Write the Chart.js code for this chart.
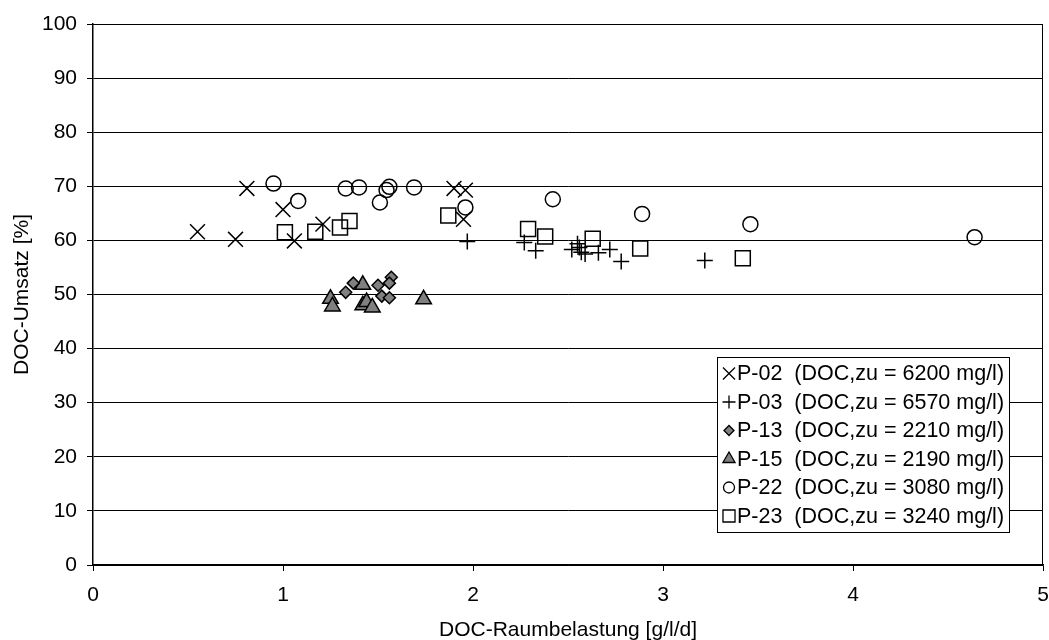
<!DOCTYPE html>
<html>
<head>
<meta charset="utf-8">
<script src="https://cdn.jsdelivr.net/npm/chart.js@4/dist/chart.umd.min.js"></script>
<style>
html,body{margin:0;padding:0;background:#fff;}
#wrap{width:1049px;height:640px;position:relative;}
</style>
</head>
<body>
<div id="wrap"><canvas id="c" width="1049" height="640"></canvas></div>
<script>
// ---- data ----
const seriesLabels = [
  'P-02  (DOC,zu = 6200 mg/l)',
  'P-03  (DOC,zu = 6570 mg/l)',
  'P-13  (DOC,zu = 2210 mg/l)',
  'P-15  (DOC,zu = 2190 mg/l)',
  'P-22  (DOC,zu = 3080 mg/l)',
  'P-23  (DOC,zu = 3240 mg/l)'
];
const p02X = [0.55, 0.75, 0.81, 1.00, 1.06, 1.21, 1.90, 1.96, 1.95];
const p02Y = [61.6, 60.2, 69.6, 65.7, 59.9, 63.0, 69.6, 69.3, 63.9];
const p03X = [1.97, 2.27, 2.33, 2.52, 2.55, 2.56, 2.57, 2.59, 2.66, 2.72, 2.78, 3.22];
const p03Y = [59.8, 59.6, 58.1, 58.3, 59.4, 58.7, 57.8, 57.5, 57.7, 58.3, 56.1, 56.3];
const p13X = [1.33, 1.37, 1.50, 1.57, 1.56, 1.52, 1.56];
const p13Y = [50.4, 52.1, 51.7, 53.2, 52.1, 49.7, 49.4];
const p15X = [1.25, 1.26, 1.42, 1.42, 1.44, 1.47, 1.74];
const p15Y = [49.2, 47.8, 51.8, 48.0, 48.6, 47.6, 49.1];
const p22X = [0.95, 1.08, 1.33, 1.40, 1.56, 1.545, 1.51, 1.69, 1.96, 2.42, 2.89, 3.46, 4.64];
const p22Y = [70.5, 67.3, 69.6, 69.8, 69.9, 69.3, 67.0, 69.8, 66.1, 67.6, 64.9, 63.0, 60.6];
const p23X = [1.01, 1.17, 1.30, 1.35, 1.87, 2.29, 2.38, 2.63, 2.88, 3.42];
const p23Y = [61.5, 61.6, 62.4, 63.6, 64.6, 62.1, 60.7, 60.3, 58.5, 56.7];
const xTicks = [0, 1, 2, 3, 4, 5];
const yTicks = [0, 10, 20, 30, 40, 50, 60, 70, 80, 90, 100];
const xTitle = 'DOC-Raumbelastung [g/l/d]';
const yTitle = 'DOC-Umsatz [%]';

const FONT = "'Liberation Sans', Arial, sans-serif";
const pts = (xs, ys) => xs.map((x, i) => ({x: x, y: ys[i]}));

const styles = [
  {pointStyle: 'crossRot', radius: 10.5, bg: 'rgba(0,0,0,0)', lr: 8.5},
  {pointStyle: 'cross', radius: 8, bg: 'rgba(0,0,0,0)', lr: 6.5},
  {pointStyle: 'rectRot', radius: 6, bg: '#808080', lr: 5},
  {pointStyle: 'triangle', radius: 9, bg: '#808080', lr: 7},
  {pointStyle: 'circle', radius: 7.5, bg: 'rgba(0,0,0,0)', lr: 5.5},
  {pointStyle: 'rect', radius: 10.6, bg: 'rgba(0,0,0,0)', lr: 8.5}
];
const seriesData = [pts(p02X,p02Y), pts(p03X,p03Y), pts(p13X,p13Y), pts(p15X,p15Y), pts(p22X,p22Y), pts(p23X,p23Y)];

const datasets = seriesData.map((d, i) => ({
  label: seriesLabels[i],
  data: d,
  showLine: false,
  pointStyle: styles[i].pointStyle,
  pointRadius: styles[i].radius,
  pointHoverRadius: styles[i].radius,
  pointBackgroundColor: styles[i].bg,
  pointBorderColor: '#000',
  pointBorderWidth: 1.5
}));

// frame (top/right border of plot area)
const framePlugin = {
  id: 'frame',
  afterDatasetsDraw(chart) {
    const {ctx, chartArea: a} = chart;
    ctx.save();
    ctx.strokeStyle = '#000';
    ctx.lineWidth = 1;
    ctx.beginPath();
    ctx.moveTo(a.left, a.top + 0.5);
    ctx.lineTo(a.right - 0.5, a.top + 0.5);
    ctx.lineTo(a.right - 0.5, a.bottom);
    ctx.stroke();
    ctx.restore();
  }
};

function drawMarker(ctx, style, r, x, y, fill) {
  ctx.beginPath();
  const s = Math.SQRT1_2 * r;
  switch (style) {
    case 'crossRot':
      ctx.moveTo(x - s, y - s); ctx.lineTo(x + s, y + s);
      ctx.moveTo(x + s, y - s); ctx.lineTo(x - s, y + s);
      ctx.stroke(); return;
    case 'cross':
      ctx.moveTo(x - r, y); ctx.lineTo(x + r, y);
      ctx.moveTo(x, y - r); ctx.lineTo(x, y + r);
      ctx.stroke(); return;
    case 'rectRot':
      ctx.moveTo(x - r, y); ctx.lineTo(x, y - r); ctx.lineTo(x + r, y); ctx.lineTo(x, y + r); ctx.closePath();
      break;
    case 'triangle':
      ctx.moveTo(x, y - r);
      ctx.lineTo(x + r * Math.sin(2 * Math.PI / 3), y + r / 2);
      ctx.lineTo(x - r * Math.sin(2 * Math.PI / 3), y + r / 2);
      ctx.closePath();
      break;
    case 'circle':
      ctx.arc(x, y, r, 0, Math.PI * 2);
      break;
    case 'rect':
      ctx.rect(x - s, y - s, 2 * s, 2 * s);
      break;
  }
  ctx.fillStyle = fill; ctx.fill(); ctx.stroke();
}

const legendBox = {
  id: 'legendBox',
  afterDraw(chart) {
    const ctx = chart.ctx;
    const left = 717.5, top = 357.5, w = 292, h = 175;
    ctx.save();
    ctx.fillStyle = '#fff';
    ctx.fillRect(left, top, w, h);
    ctx.strokeStyle = '#000';
    ctx.lineWidth = 1;
    ctx.strokeRect(left, top, w, h);
    ctx.font = '21.5px ' + FONT;
    ctx.textBaseline = 'middle';
    ctx.textAlign = 'left';
    chart.data.datasets.forEach((ds, i) => {
      const cy = 373.5 + i * 28.5;
      ctx.strokeStyle = '#000';
      ctx.lineWidth = 1.3;
      drawMarker(ctx, styles[i].pointStyle, styles[i].lr, 729, cy, styles[i].bg);
      ctx.fillStyle = '#000';
      ctx.fillText(ds.label, 737, cy + 1);
    });
    ctx.restore();
  }
};

new Chart(document.getElementById('c'), {
  type: 'scatter',
  data: {datasets: datasets},
  options: {
    responsive: false,
    animation: false,
    events: [],
    layout: {autoPadding: false, padding: {left: 0, right: 6, top: 24, bottom: 0}},
    plugins: {legend: {display: false}, tooltip: {enabled: false}, title: {display: false}},
    scales: {
      x: {
        type: 'linear', min: 0, max: 5,
        afterBuildTicks: s => { s.ticks = xTicks.map(v => ({value: v})); },
        afterFit: s => { s.height = 75; s.paddingLeft = 0; s.paddingRight = 0; },
        ticks: {color: '#000', font: {family: FONT, size: 21}, padding: 12, maxRotation: 0},
        grid: {drawOnChartArea: false, drawTicks: true, tickLength: 6, color: '#000', tickColor: '#000', lineWidth: 1},
        border: {display: true, color: '#000', width: 1.5},
        title: {display: true, text: xTitle, color: '#000', font: {family: FONT, size: 21, lineHeight: 1}, padding: {top: 0, bottom: -1}}
      },
      y: {
        type: 'linear', min: 0, max: 100,
        afterBuildTicks: s => { s.ticks = yTicks.map(v => ({value: v})); },
        afterFit: s => { s.width = 93; s.paddingTop = 0; s.paddingBottom = 0; },
        ticks: {color: '#000', font: {family: FONT, size: 21}, padding: 10},
        grid: {drawOnChartArea: true, drawTicks: true, tickLength: 6, color: '#000', tickColor: '#000', lineWidth: 1},
        border: {display: true, color: '#000', width: 1.5},
        title: {display: true, text: yTitle, color: '#000', font: {family: FONT, size: 21, lineHeight: 1}, padding: {top: 12, bottom: 0}}
      }
    }
  },
  plugins: [framePlugin, legendBox]
});
</script>
</body>
</html>
